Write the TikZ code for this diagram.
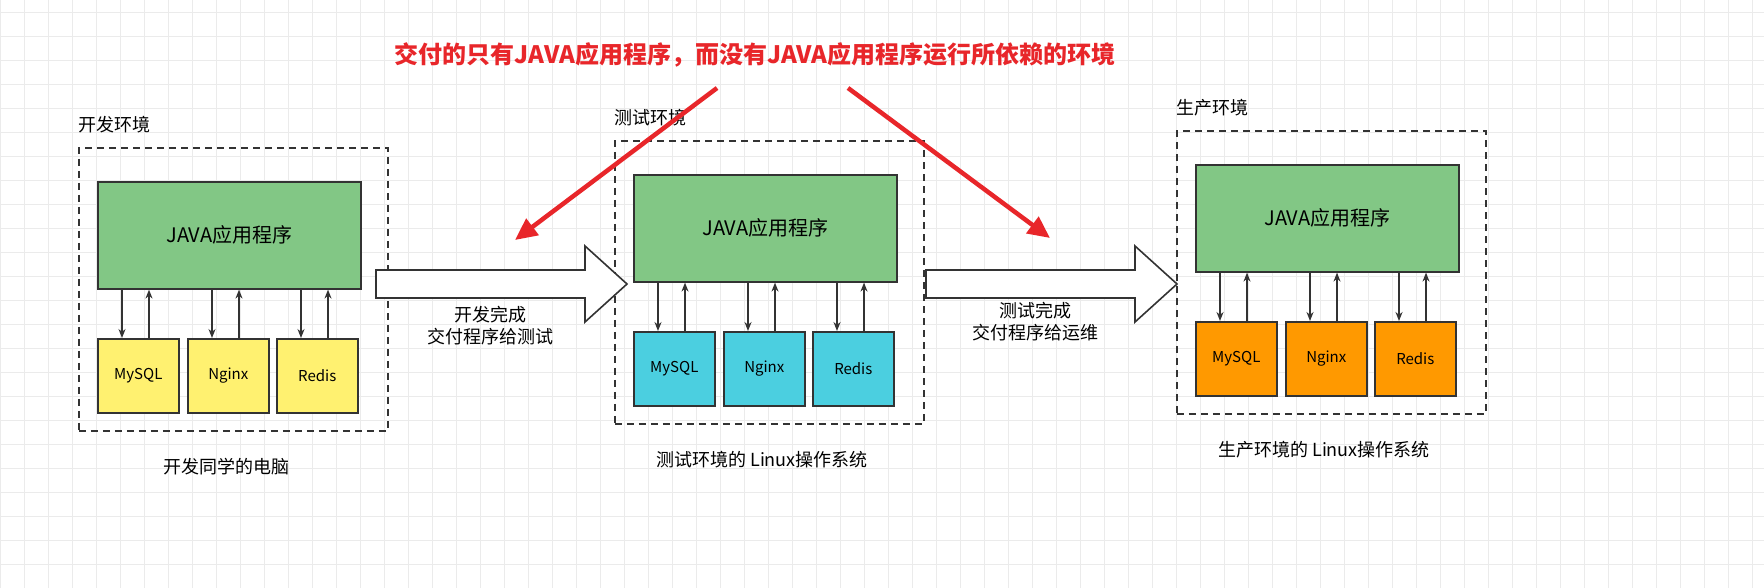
\documentclass[tikz,border=0pt]{standalone}
\usepackage{fontspec}
\setmainfont{Noto Sans CJK SC}
\usetikzlibrary{arrows.meta}
\definecolor{gridgray}{HTML}{EBEBEB}
\definecolor{appgreen}{HTML}{82C785}
\definecolor{devyellow}{HTML}{FFF170}
\definecolor{testcyan}{HTML}{4BCFE0}
\definecolor{prodorange}{HTML}{FF9900}
\definecolor{alertred}{HTML}{E8262A}
\begin{document}
\begin{tikzpicture}[x=1pt,y=-1pt,
  env_box/.style={draw=black!80,line width=1.6pt,dash pattern=on 7pt off 5pt,anchor=north west,minimum width=309pt,minimum height=283pt},
  app_box/.style={draw=black!80,fill=appgreen,line width=1.6pt,anchor=north west,minimum width=263pt,minimum height=107pt,font=\fontsize{20}{24}\selectfont},
  db_box/.style={draw=black!80,line width=1.6pt,anchor=north west,minimum width=81pt,minimum height=74pt,font=\fontsize{15}{18}\selectfont},
  link/.style={-{Stealth[length=9pt,width=7pt]},line width=1.4pt,draw=black!80},
  ship/.style={draw=black!80,line width=1.6pt,fill=white,line join=miter},
  note/.style={align=center,font=\fontsize{18}{22}\selectfont},
  alert/.style={draw=alertred,line width=4.5pt,-{Triangle[length=22pt,width=20pt]}}]
\useasboundingbox (0,0) rectangle (1764,588);
\fill[white] (0,0) rectangle (1764,588);
\foreach \gx in {0,24,...,1752} \draw[gridgray,line width=0.8pt] (\gx,0) -- (\gx,588);
\foreach \gy in {12,36,...,588} \draw[gridgray,line width=0.8pt] (0,\gy) -- (1764,\gy);

\foreach \e/\x/\y/\fc/\title/\cap in {dev/78/147/devyellow/开发环境/开发同学的电脑,test/614/140/testcyan/测试环境/测试环境的 Linux操作系统,prod/1176/130/prodorange/生产环境/生产环境的 Linux操作系统}{
  \node[env_box] (\e-box) at (\x,\y) {};
  \node[note,anchor=south west,inner sep=0pt] (\e-title) at (\x,\y-14) {\title};
  \node[app_box] (\e-app) at (\x+19,\y+34) {JAVA应用程序};
  \node[db_box,fill=\fc] (\e-db1) at (\x+19,\y+191) {MySQL};
  \node[db_box,fill=\fc] (\e-db2) at (\x+109,\y+191) {Nginx};
  \node[db_box,fill=\fc] (\e-db3) at (\x+198,\y+191) {Redis};
  \foreach \i in {1,2,3}{
    \draw[link] ([xshift=25pt]\e-db\i.north west |- \e-app.south) -- ([xshift=25pt]\e-db\i.north west);
    \draw[link] ([xshift=52pt]\e-db\i.north west) -- ([xshift=52pt]\e-db\i.north west |- \e-app.south);
  }
  \node[note] (\e-cap) at (\x+148,\y+320) {\cap};
}

% hollow hand-over arrows
\foreach \sx in {376,926}
  \draw[ship] (\sx,270) -- (\sx+209,270) -- (\sx+209,246) -- (\sx+251,284)
    -- (\sx+209,322) -- (\sx+209,298) -- (\sx,298) -- cycle;
\node[note] (ship1-text) at (490,326) {开发完成\\交付程序给测试};
\node[note] (ship2-text) at (1035,322) {测试完成\\交付程序给运维};

\node[font=\fontsize{24}{28}\selectfont\bfseries,text=alertred] (headline) at (755,55) {交付的只有JAVA应用程序，而没有JAVA应用程序运行所依赖的环境};
\coordinate (from1) at (717,88);
\coordinate (to1) at (515,240);
\coordinate (from2) at (848,88);
\coordinate (to2) at (1050,238);
\draw[alert] (from1) -- (to1);
\draw[alert] (from2) -- (to2);
\end{tikzpicture}
\end{document}
